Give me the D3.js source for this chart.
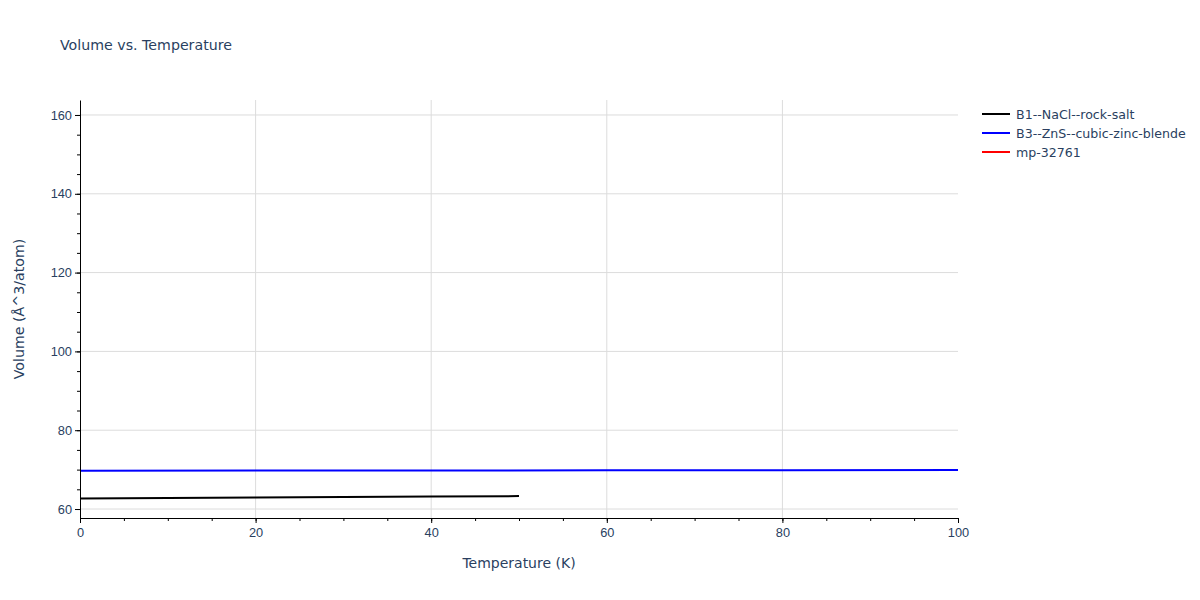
<!DOCTYPE html>
<html>
<head>
<meta charset="utf-8">
<script src="https://cdn.jsdelivr.net/npm/d3@7"></script>
<style>
  body { margin: 0; background: #fff; }
  svg { font-family: "DejaVu Sans", verdana, arial, sans-serif; }
</style>
</head>
<body>
<script>
// series data
var rocksaltT = [0, 10, 20, 30, 40, 50];
var rocksaltV = [62.68, 62.79, 62.91, 63.03, 63.15, 63.28];
var zincblendeT = [0, 20, 40, 60, 80, 100];
var zincblendeV = [69.73, 69.75, 69.78, 69.81, 69.84, 69.88];
// mp-32761 has a single point only, so no line is visible
var mpT = [0];
var mpV = [159.0];

var seriesNames = ["B1--NaCl--rock-salt", "B3--ZnS--cubic-zinc-blende", "mp-32761"];
var seriesColors = ["#000000", "#0000ff", "#ff0000"];
var xTicks = [0, 20, 40, 60, 80, 100];
var yTicks = [60, 80, 100, 120, 140, 160];

var width = 1200;
var height = 600;
var margin = {left: 80, top: 100, right: 242, bottom: 82};
var plotW = width - margin.left - margin.right;
var plotH = height - margin.top - margin.bottom;
var textColor = "#2a3f5f";

var x = d3.scaleLinear().domain([0, 100]).range([0, plotW]);
var y = d3.scaleLinear().domain([57.72, 163.8]).range([plotH, 0]);

var svg = d3.select("body")
            .append("svg")
            .attr("width", width)
            .attr("height", height);

// title
svg.append("text")
    .attr("x", 60)
    .attr("y", 50)
    .attr("fill", textColor)
    .style("font-size", "14.2px")
    .text("Volume vs. Temperature");

var canvas = svg.append("g")
                .attr("transform", "translate(" + margin.left + "," + margin.top + ")");

// grid lines
canvas.selectAll(".xgrid")
    .data(xTicks.filter(function(d){ return d > 0 && d < 100; }))
    .enter()
      .append("line")
      .attr("x1", function(d){ return x(d); })
      .attr("x2", function(d){ return x(d); })
      .attr("y1", 0)
      .attr("y2", plotH)
      .attr("stroke", "#dcdcdc")
      .attr("stroke-width", 1);

canvas.selectAll(".ygrid")
    .data(yTicks)
    .enter()
      .append("line")
      .attr("x1", 0)
      .attr("x2", plotW)
      .attr("y1", function(d){ return y(d); })
      .attr("y2", function(d){ return y(d); })
      .attr("stroke", "#dcdcdc")
      .attr("stroke-width", 1);

// lines
svg.append("defs").append("clipPath").attr("id", "clip")
    .append("rect").attr("width", plotW).attr("height", plotH);

var line = d3.line()
    .x(function(d){ return x(d[0]); })
    .y(function(d){ return y(d[1]); });

var series = [
  d3.zip(rocksaltT, rocksaltV),
  d3.zip(zincblendeT, zincblendeV),
  d3.zip(mpT, mpV)
];

canvas.append("g").attr("clip-path", "url(#clip)")
    .selectAll("path")
    .data(series)
    .enter()
      .append("path")
      .attr("d", function(d){ return d.length > 1 ? line(d) : null; })
      .attr("fill", "none")
      .attr("stroke", function(d, i){ return seriesColors[i]; })
      .attr("stroke-width", 2);

// minor ticks
var xMinor = d3.axisBottom(x).tickValues(d3.range(0, 101, 5)).tickSize(3).tickFormat("");
var yMinor = d3.axisLeft(y).tickValues(d3.range(60, 164, 5)).tickSize(3).tickFormat("");

canvas.append("g").attr("transform", "translate(0," + plotH + ")").call(xMinor)
    .call(function(g){ g.select(".domain").remove(); });
canvas.append("g").call(yMinor)
    .call(function(g){ g.select(".domain").remove(); });

// major axes
var xAxis = d3.axisBottom(x).tickValues(xTicks).tickSize(5).tickPadding(5).tickSizeOuter(0);
var yAxis = d3.axisLeft(y).tickValues(yTicks).tickSize(5).tickPadding(3).tickSizeOuter(0);

var gx = canvas.append("g").attr("transform", "translate(0," + plotH + ")").call(xAxis);
var gy = canvas.append("g").call(yAxis);

[gx, gy].forEach(function(g){
  g.selectAll("text").attr("fill", textColor).style("font-size", "12.8px");
  g.select(".domain").attr("stroke", "#000").attr("stroke-width", 1);
});
canvas.selectAll(".tick line").attr("stroke", "#000");

// axis titles
svg.append("text")
    .attr("x", margin.left + plotW / 2)
    .attr("y", 568)
    .attr("text-anchor", "middle")
    .attr("fill", textColor)
    .style("font-size", "14px")
    .text("Temperature (K)");

svg.append("text")
    .attr("transform", "translate(24," + (margin.top + plotH / 2) + ") rotate(-90)")
    .attr("text-anchor", "middle")
    .attr("fill", textColor)
    .style("font-size", "14.2px")
    .text("Volume (Å^3/atom)");

// legend
var legend = svg.selectAll(".legend")
    .data(seriesNames)
    .enter()
      .append("g")
      .attr("transform", function(d, i){ return "translate(982," + (114 + i * 19) + ")"; });

legend.append("line")
    .attr("x1", 0).attr("x2", 28)
    .attr("stroke", function(d, i){ return seriesColors[i]; })
    .attr("stroke-width", 2);

legend.append("text")
    .attr("x", 34)
    .attr("y", 4.5)
    .attr("fill", textColor)
    .style("font-size", "12.6px")
    .text(function(d){ return d; });
</script>
</body>
</html>
